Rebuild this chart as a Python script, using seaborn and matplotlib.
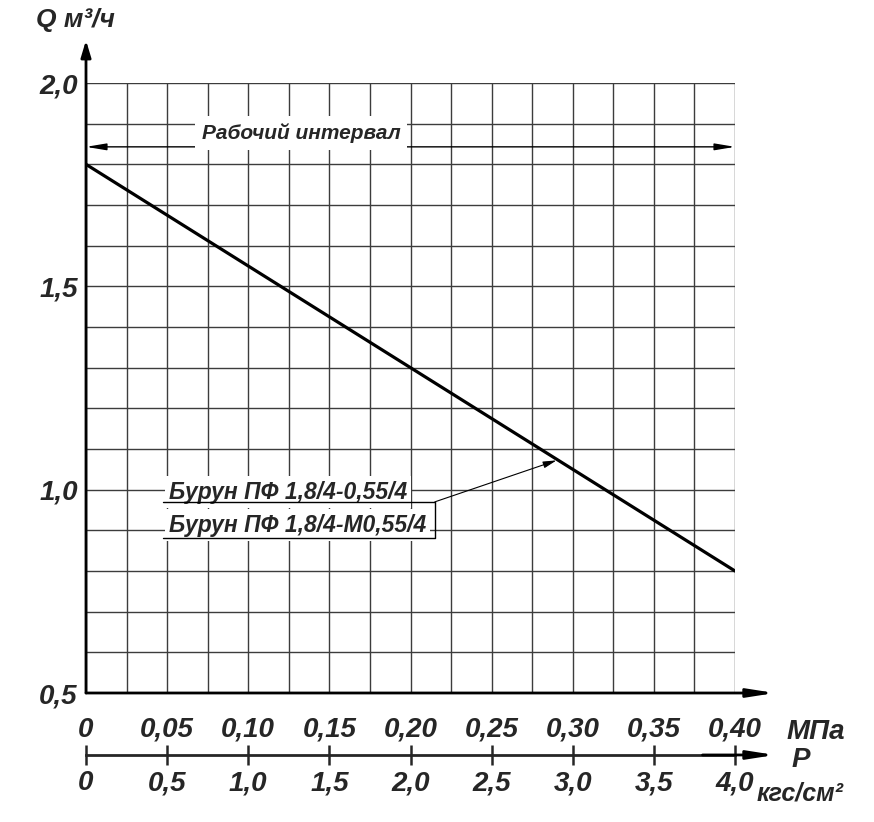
import numpy as np
import pandas as pd
import matplotlib
matplotlib.use("Agg")
import matplotlib.pyplot as plt
import seaborn as sns

# data
pressure_mpa = [0.0, 0.40]
flow_m3h = [1.80, 0.80]

mpa_ticks = [0.0, 0.05, 0.10, 0.15, 0.20, 0.25, 0.30, 0.35, 0.40]
mpa_labels = ["0", "0,05", "0,10", "0,15", "0,20", "0,25", "0,30", "0,35", "0,40"]
kgf_ticks = [0.0, 0.5, 1.0, 1.5, 2.0, 2.5, 3.0, 3.5, 4.0]
kgf_labels = ["0", "0,5", "1,0", "1,5", "2,0", "2,5", "3,0", "3,5", "4,0"]
q_ticks = [0.5, 1.0, 1.5, 2.0]
q_labels = ["0,5", "1,0", "1,5", "2,0"]

model_labels = ["Бурун ПФ 1,8/4-0,55/4", "Бурун ПФ 1,8/4-М0,55/4"]
interval_label = "Рабочий интервал"

sns.set_style("white")
plt.rcParams['font.family'] = ['Liberation Sans', 'DejaVu Sans']
plt.rcParams['font.weight'] = 'bold'
plt.rcParams['font.style'] = 'italic'

W, H = 874, 822
fig = plt.figure(figsize=(W / 100, H / 100), dpi=100)
ax = fig.add_axes([86 / W, 129 / H, 649 / W, 610 / H])

df = pd.DataFrame({"P": pressure_mpa, "Q": flow_m3h})
sns.lineplot(data=df, x="P", y="Q", ax=ax, color="black", lw=2.3, zorder=5)

ax.set_xlim(0, 0.40)
ax.set_ylim(0.5, 2.0)
ax.set_xticks(mpa_ticks)
ax.set_xticklabels(mpa_labels, fontsize=20)
ax.set_xticks(np.arange(0, 0.401, 0.025), minor=True)
ax.set_yticks(q_ticks)
ax.set_yticklabels(q_labels, fontsize=20)
ax.set_yticks(np.arange(0.5, 2.001, 0.1), minor=True)
ax.tick_params(which="both", length=0)
ax.tick_params(axis="x", pad=17)
ax.tick_params(axis="y", pad=6)
ax.grid(which="both", color="#3c3c3c", lw=1.0)
ax.set_xlabel("")
ax.set_ylabel("")
for s in ax.spines.values():
    s.set_visible(False)

# main axes with arrows
ax.annotate("", xy=(0, 2.105), xytext=(0, 0.5), annotation_clip=False,
            arrowprops=dict(arrowstyle="-|>,head_length=1.0,head_width=0.3", color="black", lw=2.0,
                            shrinkA=0, shrinkB=0))
ax.annotate("", xy=(0.4246, 0.5), xytext=(0, 0.5), annotation_clip=False,
            arrowprops=dict(arrowstyle="-|>,head_length=1.6,head_width=0.25", color="black", lw=2.0,
                            shrinkA=0, shrinkB=0))

# working interval
ax.annotate("", xy=(0.40, 1.843), xytext=(0, 1.843),
            arrowprops=dict(arrowstyle="<|-|>,head_length=1.2,head_width=0.2", color="black", lw=1.0,
                            shrinkA=0, shrinkB=0))
ax.text(0.1325, 1.877, interval_label, fontsize=15, ha="center", va="center",
        bbox=dict(facecolor="white", edgecolor="none", pad=5), zorder=6)

# model labels with pointer
ax.text(0.051, 0.994, model_labels[0], fontsize=16.5, ha="left", va="center",
        bbox=dict(facecolor="white", edgecolor="none", pad=3), zorder=6)
ax.text(0.051, 0.913, model_labels[1], fontsize=16.5, ha="left", va="center",
        bbox=dict(facecolor="white", edgecolor="none", pad=3), zorder=6)
ax.plot([0.0475, 0.215], [0.97, 0.97], color="black", lw=1.0, zorder=7)
ax.plot([0.0475, 0.215, 0.215], [0.881, 0.881, 0.97], color="black", lw=1.0, zorder=7)
ax.annotate("", xy=(0.29, 1.072), xytext=(0.215, 0.97),
            arrowprops=dict(arrowstyle="-|>,head_length=0.8,head_width=0.2", color="black", lw=0.8,
                            shrinkA=0, shrinkB=0), zorder=7)

# secondary pressure scale in kgf/cm2
sec = ax.secondary_xaxis(-0.1016, functions=(lambda x: x * 10, lambda x: x / 10))
sec.set_xticks(kgf_ticks)
sec.set_xticklabels(kgf_labels, fontsize=20)
sec.tick_params(direction="inout", length=14, width=1.8, pad=4)
sec.spines["bottom"].set_linewidth(2.0)
ax.annotate("", xy=(0.4246, 0.5 - 0.1016 * 1.5), xytext=(0.38, 0.5 - 0.1016 * 1.5),
            annotation_clip=False,
            arrowprops=dict(arrowstyle="-|>,head_length=1.6,head_width=0.25", color="black", lw=2.0,
                            shrinkA=0, shrinkB=0))

# axis titles
fig.text(36 / W, 1 - 20 / H, "Q м³/ч", fontsize=19, ha="left", va="center")
fig.text(787 / W, 1 - 732 / H, "МПа", fontsize=20, ha="left", va="center")
fig.text(792 / W, 1 - 760 / H, "P", fontsize=20, ha="left", va="center")
fig.text(757 / W, 1 - 793 / H, "кгс/см²", fontsize=18, ha="left", va="center")

fig.savefig("out.png", dpi=100, facecolor="white")
